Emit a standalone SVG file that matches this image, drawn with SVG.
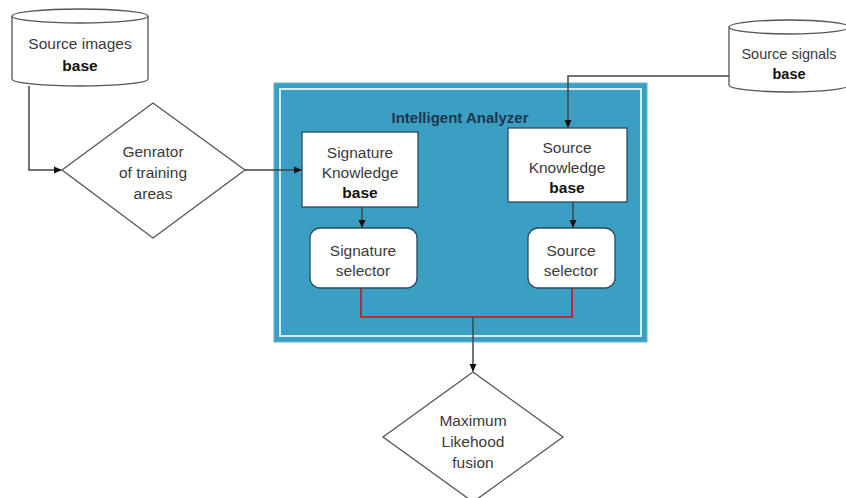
<svg xmlns="http://www.w3.org/2000/svg" width="846" height="498" viewBox="0 0 846 498">
<defs>
<marker id="arr" markerWidth="8" markerHeight="8" refX="7" refY="4" orient="auto" markerUnits="userSpaceOnUse">
<path d="M0,0.5 L8,4 L0,7.5 Z" fill="#111"/>
</marker>
<style>
.t{font-family:"Liberation Sans",Arial,sans-serif;font-size:15.5px;fill:#3a3a3a;text-anchor:middle}
.b{font-weight:bold;fill:#111}
.shape{fill:#fff;stroke:#555;stroke-width:1.3}
.box{fill:#fff;stroke:#2a4a60;stroke-width:1.3}
.ln{fill:none;stroke:#444;stroke-width:1.5}
.red{fill:none;stroke:#c0283a;stroke-width:2}
</style>
</defs>
<rect width="846" height="498" fill="#fff"/>

<g id="analyzer">
<rect x="274" y="83" width="373" height="259" fill="#3a9fc2" stroke="#5fb6d2" stroke-width="1"/>
<rect x="280" y="89" width="361" height="247" fill="none" stroke="#e6f6fb" stroke-width="1.8"/>
<text x="460" y="123" class="t" style="font-weight:bold;fill:#1c3650;font-size:15px">Intelligent Analyzer</text>
</g>

<g id="connectors">
<path class="ln" d="M29,86 V170 H61" marker-end="url(#arr)"/>
<path class="ln" d="M245,170 H301" marker-end="url(#arr)"/>
<path class="ln" d="M729,76 H568 V127" marker-end="url(#arr)"/>
<path class="ln" d="M362,207 V227" marker-end="url(#arr)"/>
<path class="ln" d="M573,202 V227" marker-end="url(#arr)"/>
<path class="red" d="M361,288 V317 H572 V288"/>
<path class="ln" d="M473,317 V371" marker-end="url(#arr)"/>
</g>

<g id="source-images">
<path class="shape" d="M12,16 V79 A68,7 0 0 0 148,79 V16 A68,7 0 0 0 12,16 Z"/>
<path class="shape" d="M12,16 A68,7 0 0 0 148,16" fill="none"/>
<text x="80" y="49" class="t">Source images</text>
<text x="80" y="71" class="t b">base</text>
</g>

<g id="generator">
<polygon class="shape" points="62,170 153,103 245,170 153,238"/>
<text x="153" y="157" class="t">Genrator</text>
<text x="153" y="178" class="t">of training</text>
<text x="153" y="199" class="t">areas</text>
</g>

<g id="source-signals">
<path class="shape" d="M729,27 V85 A60,7 0 0 0 849,85 V27 A60,7 0 0 0 729,27 Z"/>
<path class="shape" d="M729,27 A60,7 0 0 0 849,27" fill="none"/>
<text x="789" y="59" class="t" style="font-size:14.5px">Source signals</text>
<text x="789" y="79" class="t b" style="font-size:14.5px">base</text>
</g>

<g id="signature-kb">
<rect x="302" y="132" width="116" height="75" class="box"/>
<text x="360" y="158" class="t">Signature</text>
<text x="360" y="178" class="t">Knowledge</text>
<text x="360" y="198" class="t b">base</text>
</g>

<g id="source-kb">
<rect x="508" y="128" width="119" height="74" class="box"/>
<text x="567" y="153" class="t">Source</text>
<text x="567" y="173" class="t">Knowledge</text>
<text x="567" y="193" class="t b">base</text>
</g>

<g id="signature-selector">
<rect x="310" y="228" width="107" height="60" rx="10" class="box"/>
<text x="363" y="256" class="t">Signature</text>
<text x="363" y="276" class="t">selector</text>
</g>

<g id="source-selector">
<rect x="528" y="228" width="87" height="60" rx="10" class="box"/>
<text x="571" y="256" class="t">Source</text>
<text x="571" y="276" class="t">selector</text>
</g>

<g id="fusion">
<polygon class="shape" points="473,372 563,437 473,502 383,437"/>
<text x="473" y="426" class="t">Maximum</text>
<text x="473" y="447" class="t">Likehood</text>
<text x="473" y="468" class="t">fusion</text>
</g>
</svg>
